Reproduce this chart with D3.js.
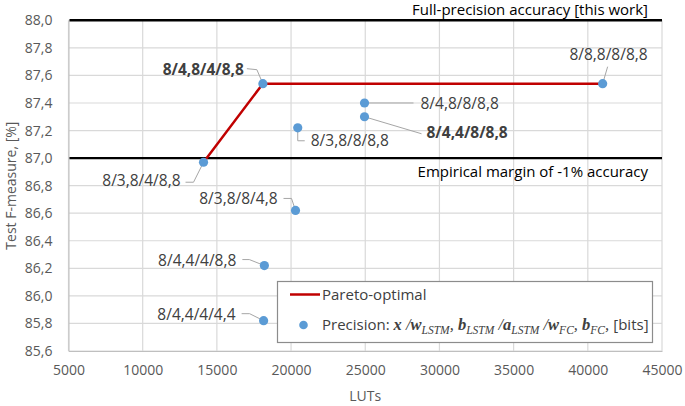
<!DOCTYPE html>
<html>
<head>
<meta charset="utf-8">
<script src="https://cdn.jsdelivr.net/npm/d3@7"></script>
<style>
  body { margin: 0; background: #fff; }
  svg { display: block; font-family: "Open Sans", sans-serif; }
</style>
</head>
<body>
<svg id="chart" width="685" height="406"></svg>
<script>
// data
const configs = ["8/3,8/4/8,8", "8/4,8/4/8,8", "8/8,8/8/8,8", "8/3,8/8/8,8", "8/4,8/8/8,8",
                 "8/4,4/8/8,8", "8/3,8/8/4,8", "8/4,4/4/8,8", "8/4,4/4/4,4"];
const luts = [14100, 18100, 41000, 20450, 24950, 24950, 20300, 18200, 18150];
const fMeasure = [86.97, 87.54, 87.54, 87.22, 87.40, 87.30, 86.62, 86.22, 85.82];
const boldLabel = [false, true, false, false, false, true, false, false, false];
const paretoIdx = [0, 1, 2];
const refLines = [
  { value: 88.0, label: "Full-precision accuracy [this work]" },
  { value: 87.0, label: "Empirical margin of -1% accuracy" }
];
const xTicks = d3.range(5000, 45001, 5000);
const yTicks = d3.range(0, 13).map(i => +(85.6 + i * 0.2).toFixed(1));

// label placement: text anchor offset (dx, dy) from the point, and leader path
const labelPos = [
  { dx: -23, dy: 24, anchor: "end", leader: [[-18, 20], [-10, 20], [0, 0]] },
  { dx: -19, dy: -9, anchor: "end", leader: [[-16, -15], [-6, -14], [0, 0]] },
  { dx: 45, dy: -24, anchor: "end", leader: [[5, -17], [0, 0]] },
  { dx: 13, dy: 18, anchor: "start", leader: [[0, 0], [0, 13], [7, 13]] },
  { dx: 56, dy: 6, anchor: "start", leader: [[0, 0], [49, 0]] },
  { dx: 62, dy: 21, anchor: "start", leader: [[0, 0], [57, 17]] },
  { dx: -18, dy: -6, anchor: "end", leader: [[-12, -12], [-4, -12], [0, 0]] },
  { dx: -28, dy: 0, anchor: "end", leader: [[-22, -6], [-15, -6], [0, 0]] },
  { dx: -28, dy: -1, anchor: "end", leader: [[-22, -7], [-14, -7], [0, 0]] }
];

const svg = d3.select("#chart");
const x = d3.scaleLinear().domain([5000, 45000]).range([68.5, 662]);
const y = d3.scaleLinear().domain([85.6, 88.0]).range([351, 20.3]);
const fmtY = d => d3.format(".1f")(d).replace(".", ",");

// grid
svg.append("g").selectAll("line").data(yTicks).join("line")
  .attr("x1", x(5000)).attr("x2", x(45000))
  .attr("y1", d => y(d)).attr("y2", d => y(d))
  .attr("stroke", "#d9d9d9").attr("stroke-width", 1.2);
svg.append("g").selectAll("line").data(xTicks).join("line")
  .attr("x1", d => x(d)).attr("x2", d => x(d))
  .attr("y1", y(88)).attr("y2", y(85.6))
  .attr("stroke", "#d9d9d9").attr("stroke-width", 1.2);

// axes
const yAxis = svg.append("g").attr("transform", `translate(${x(5000)},0)`)
  .call(d3.axisLeft(y).tickValues(yTicks).tickFormat(fmtY).tickSize(0).tickPadding(16));
const xAxis = svg.append("g").attr("transform", `translate(0,${y(85.6)})`)
  .call(d3.axisBottom(x).tickValues(xTicks).tickFormat(d3.format("d")).tickSize(0).tickPadding(14));
[yAxis, xAxis].forEach(a => {
  a.select(".domain").attr("stroke", "#bfbfbf");
  a.selectAll("text").attr("fill", "#595959").style("font-size", "14px")
    .style("font-family", "'Open Sans', sans-serif");
});

svg.append("text").attr("transform", `translate(16,${(y(88) + y(85.6)) / 2}) rotate(-90)`)
  .attr("text-anchor", "middle").attr("fill", "#595959").style("font-size", "14px")
  .text("Test F-measure, [%]");
svg.append("text").attr("x", (x(5000) + x(45000)) / 2).attr("y", 401)
  .attr("text-anchor", "middle").attr("fill", "#595959").style("font-size", "14px")
  .text("LUTs");

// reference lines
svg.append("g").selectAll("line").data(refLines).join("line")
  .attr("x1", x(5000) + 1).attr("x2", x(45000))
  .attr("y1", d => y(d.value)).attr("y2", d => y(d.value))
  .attr("stroke", "#000").attr("stroke-width", 2.4);
svg.append("g").selectAll("text").data(refLines).join("text")
  .attr("x", 648).attr("y", (d, i) => y(d.value) + (i === 0 ? -5.5 : 19))
  .attr("text-anchor", "end").attr("fill", "#000").style("font-size", "15px")
  .text(d => d.label);

// pareto line
svg.append("path")
  .datum(paretoIdx)
  .attr("fill", "none").attr("stroke", "#c00000").attr("stroke-width", 2.5)
  .attr("d", d3.line().x(i => x(luts[i])).y(i => y(fMeasure[i])));

// leaders
const idx = d3.range(configs.length);
svg.append("g").selectAll("path").data(idx).join("path")
  .attr("fill", "none").attr("stroke", "#a6a6a6").attr("stroke-width", 1)
  .attr("d", i => d3.line()(labelPos[i].leader.map(p => [x(luts[i]) + p[0], y(fMeasure[i]) + p[1]])));

// points
svg.append("g").selectAll("circle").data(idx).join("circle")
  .attr("cx", i => x(luts[i])).attr("cy", i => y(fMeasure[i])).attr("r", 4.6)
  .attr("fill", "#5b9bd5");

// labels
svg.append("g").selectAll("text").data(idx).join("text")
  .attr("x", i => x(luts[i]) + labelPos[i].dx)
  .attr("y", i => y(fMeasure[i]) + labelPos[i].dy)
  .attr("text-anchor", i => labelPos[i].anchor)
  .attr("fill", "#404040").style("font-size", "15.5px")
  .style("font-weight", i => boldLabel[i] ? "bold" : "normal")
  .text(i => configs[i]);

// legend
const lg = svg.append("g");
lg.append("rect").attr("x", 277.5).attr("y", 281.5).attr("width", 375).attr("height", 61)
  .attr("fill", "#fff").attr("stroke", "#8c8c8c").attr("stroke-width", 1.2);
lg.append("line").attr("x1", 290).attr("x2", 320).attr("y1", 294.5).attr("y2", 294.5)
  .attr("stroke", "#c00000").attr("stroke-width", 2.5);
lg.append("text").attr("x", 322).attr("y", 300).attr("fill", "#404040").style("font-size", "15px")
  .text("Pareto-optimal");
lg.append("circle").attr("cx", 303.5).attr("cy", 325).attr("r", 4.3).attr("fill", "#5b9bd5");

const precParts = [
  { t: "Precision: ", k: "sans" },
  { t: "x", k: "math" }, { t: " /", k: "op" },
  { t: "w", k: "math" }, { t: "LSTM", k: "sub" }, { t: ", ", k: "op" },
  { t: "b", k: "math" }, { t: "LSTM", k: "sub" }, { t: " /", k: "op" },
  { t: "a", k: "math" }, { t: "LSTM", k: "sub" }, { t: " /", k: "op" },
  { t: "w", k: "math" }, { t: "FC", k: "sub" }, { t: ", ", k: "op" },
  { t: "b", k: "math" }, { t: "FC", k: "sub" }, { t: ", ", k: "op" },
  { t: "[bits]", k: "sans" }
];
const pt = lg.append("text").attr("x", 322).attr("y", 330).attr("fill", "#404040")
  .style("font-size", "15px");
let prevSub = false;
precParts.forEach(p => {
  const s = pt.append("tspan").text(p.t);
  let dy = 0;
  if (p.k === "sub" && !prevSub) dy = 4;
  if (p.k !== "sub" && prevSub) dy = -4;
  if (dy) s.attr("dy", dy);
  if (p.k === "math") s.style("font-family", "'Liberation Serif', serif").style("font-style", "italic")
    .style("font-weight", "bold").style("font-size", "16.5px");
  if (p.k === "op") s.style("font-family", "'Liberation Serif', serif").style("font-style", "italic")
    .style("font-size", "16.5px");
  if (p.k === "sub") s.style("font-family", "'Liberation Serif', serif").style("font-style", "italic")
    .style("font-size", "11.5px");
  prevSub = p.k === "sub";
});
</script>
</body>
</html>
